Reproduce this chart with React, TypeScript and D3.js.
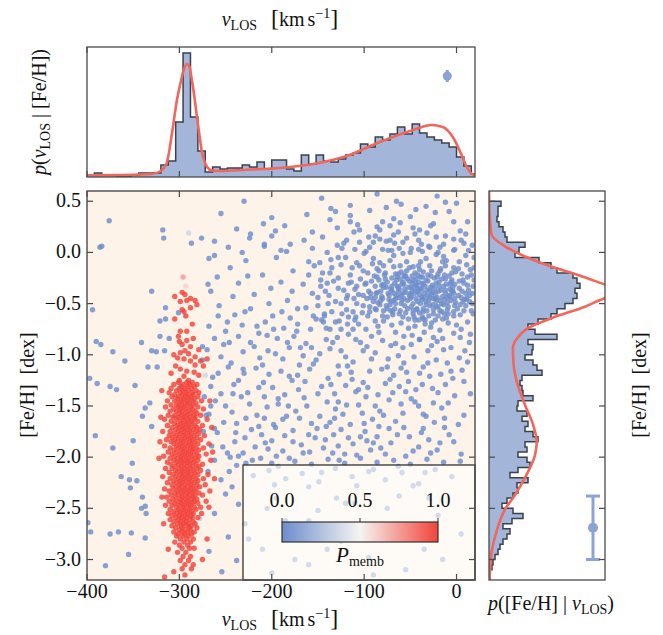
import React from 'react';
import * as d3 from 'd3';

// ---------- data ----------
const xTicks = [-400, -300, -200, -100, 0];
const yTicks = [0.5, 0.0, -0.5, -1.0, -1.5, -2.0, -2.5, -3.0];
const cbTicks = [0, 0.5, 1];

// top histogram of v_LOS (bins of 8 km/s starting at -400)
const vHistStart = -400;
const vHistWidth = 8;
const vHistCounts = [2, 4, 2, 2, 1, 1, 2, 4, 4, 4, 12, 16, 55, 124, 60, 26, 5,
  10, 8, 9, 9, 12, 10, 15, 8, 17,
  17, 8, 6, 22, 13, 22, 16, 15, 18, 22, 24, 33, 30, 40, 37, 43, 50, 43, 53, 44, 40, 37, 34, 30, 20, 11, 3];

// model curve p(v | [Fe/H])
const vModel: [number, number][] = [
  [-400, 1.7], [-360, 2], [-330, 3], [-320, 6], [-314, 13], [-307, 50], [-303, 75], [-299, 93],
  [-295, 108], [-292, 113], [-289, 110], [-287, 100], [-284, 82], [-281, 60], [-278, 40], [-276, 27],
  [-273, 16], [-270, 10], [-265, 6.5], [-255, 6], [-227, 7.3], [-191, 9], [-155, 13], [-119, 21],
  [-83, 35], [-47, 47], [-27, 52], [-15, 50], [-4, 40], [5.5, 22], [10, 12], [14.5, 5], [20, 1]];

// right histogram of [Fe/H] (bins of 0.05 dex from 0.50 downward)
const fehHistStart = 0.5;
const fehHistWidth = 0.05;
const fehHistCounts = [12, 9, 9, 8, 10, 14, 16, 18, 36, 30, 26, 50, 62, 68, 84, 88, 91, 86, 88, 84,
  76, 68, 62, 49, 39, 46, 68, 39, 44, 43, 36, 44, 48, 53, 33, 31,
  33, 34, 44, 29, 28, 38, 33, 39, 36, 44, 49, 36, 38, 29, 38, 41, 29, 21, 39, 28,
  29, 24, 18, 13, 24, 34, 23, 14, 21, 18, 14, 11, 9, 6, 4, 3, 1, 1];

// model curve p([Fe/H] | v)  [feh, density]
const fehModel: [number, number][] = [
  [0.6, 0], [0.3, 1], [0.17, 2.7], [0.06, 16], [-0.04, 36], [-0.14, 63], [-0.22, 89], [-0.29, 109],
  [-0.33, 120], [-0.38, 126], [-0.43, 120], [-0.47, 110], [-0.53, 96], [-0.64, 63], [-0.74, 39],
  [-0.84, 28], [-0.93, 24], [-1.06, 24.3], [-1.26, 27.7], [-1.49, 36], [-1.68, 44], [-1.85, 47.7],
  [-1.98, 46], [-2.2, 36], [-2.37, 26], [-2.51, 16], [-2.72, 7.7], [-2.92, 2.7], [-3.11, 1], [-3.2, 0.5]];

// typical uncertainties
const vErrMarker = { v: -10, h: 101 };
const fehErrMarker = { w: 104, feh: -2.69, err: 0.31 };

// member stars (Pmemb ~ 1): rows of [Fe/H, list of v_LOS]
const memberRows: [number, number[]][] = [
  [-0.39, [-297]], [-0.41, [-294]], [-0.43, [-305]], [-0.45, [-288]], [-0.47, [-292, -283]], [-0.48, [-299]], [-0.51, [-281]], [-0.54, [-288]],
  [-0.56, [-297]], [-0.58, [-295]], [-0.62, [-293]], [-0.65, [-305]], [-0.70, [-286]], [-0.77, [-299, -292]], [-0.82, [-301]], [-0.84, [-285]],
  [-0.86, [-292]], [-0.87, [-300]], [-0.90, [-297]], [-0.92, [-288]], [-0.95, [-279]], [-0.96, [-294]], [-0.98, [-299]], [-0.99, [-290]],
  [-1.00, [-306]], [-1.02, [-283]], [-1.03, [-302]],
  [-1.04, [-295, -270]], [-1.06, [-288, -277]], [-1.10, [-283]], [-1.11, [-304, -274]], [-1.14, [-299]], [-1.16, [-292]],
  [-1.17, [-284]], [-1.18, [-309]], [-1.20, [-279]], [-1.21, [-295]], [-1.25, [-300, -290]],
  [-1.27, [-301, -292, -286]], [-1.29, [-306, -296, -289, -281]], [-1.31, [-298, -291, -284]],
  [-1.33, [-309, -300, -294, -287]], [-1.35, [-319, -303, -296, -290, -282]], [-1.37, [-311, -299, -293, -286, -279]],
  [-1.39, [-305, -297, -291, -285]], [-1.41, [-308, -301, -294, -288, -280]], [-1.43, [-302, -296, -290, -284]],
  [-1.45, [-313, -305, -298, -292, -286, -276, -267]], [-1.47, [-300, -294, -289, -282]], [-1.49, [-309, -303, -297, -291, -285]],
  [-1.51, [-315, -301, -295, -288, -280]], [-1.53, [-306, -299, -293, -286, -274]], [-1.55, [-310, -303, -297, -290, -283]],
  [-1.57, [-300, -294, -288, -281]], [-1.59, [-312, -305, -298, -292, -285, -277]], [-1.61, [-320, -307, -301, -295, -289, -283]],
  [-1.63, [-316, -303, -296, -290, -284, -270]], [-1.65, [-309, -299, -293, -287, -280]], [-1.67, [-305, -298, -292, -286]],
  [-1.69, [-313, -302, -296, -290, -283, -275]], [-1.71, [-308, -300, -294, -288, -281, -265]], [-1.73, [-304, -297, -291, -285, -278]],
  [-1.75, [-318, -310, -301, -295, -289, -282]], [-1.77, [-306, -299, -293, -287, -279]], [-1.79, [-311, -303, -296, -290, -284, -273]],
  [-1.81, [-308, -301, -294, -288, -281]], [-1.83, [-314, -305, -298, -292, -286, -277]], [-1.85, [-321, -309, -302, -296, -289, -283]],
  [-1.87, [-306, -299, -293, -287, -280, -268]], [-1.89, [-316, -303, -297, -291, -285]], [-1.91, [-310, -301, -295, -288, -282, -274]],
  [-1.93, [-306, -298, -292, -286, -279]], [-1.95, [-312, -303, -296, -290, -284, -264]], [-1.97, [-308, -300, -294, -288, -281, -271]],
  [-1.99, [-317, -305, -298, -292, -286, -279]], [-2.01, [-322, -310, -302, -296, -290, -283]], [-2.03, [-306, -299, -293, -287, -280, -266]],
  [-2.05, [-313, -303, -297, -291, -285]], [-2.07, [-309, -301, -295, -289, -282, -275]], [-2.09, [-305, -298, -292, -286, -279]],
  [-2.11, [-315, -308, -300, -294, -288, -281]], [-2.13, [-304, -297, -291, -285, -277]], [-2.15, [-311, -302, -296, -290, -283]],
  [-2.17, [-307, -299, -293, -287, -280, -269]], [-2.19, [-318, -304, -297, -291, -285]], [-2.21, [-310, -301, -295, -289, -282, -274, -262]],
  [-2.23, [-306, -299, -293, -287, -280]], [-2.25, [-313, -303, -297, -290, -284]], [-2.27, [-308, -300, -294, -288, -281, -272]],
  [-2.29, [-304, -298, -292, -286, -278]], [-2.31, [-316, -307, -300, -294, -288, -282]], [-2.33, [-311, -302, -296, -290, -284, -267]],
  [-2.35, [-305, -298, -292, -286, -279]], [-2.37, [-309, -301, -295, -289, -283, -275]], [-2.39, [-319, -314, -304, -297, -291, -285]],
  [-2.41, [-307, -299, -293, -287, -281]], [-2.43, [-311, -302, -296, -290, -284, -271]], [-2.45, [-305, -298, -292, -286, -280]],
  [-2.47, [-315, -308, -300, -294, -288]], [-2.49, [-303, -296, -290, -284, -277, -268]], [-2.51, [-310, -301, -295, -289, -282]],
  [-2.53, [-306, -299, -293, -287]], [-2.55, [-312, -303, -297, -291, -285, -276]], [-2.57, [-308, -300, -294, -288]],
  [-2.59, [-304, -298, -292, -286, -280]], [-2.61, [-310, -301, -295, -289]], [-2.63, [-306, -299, -293, -285]],
  [-2.65, [-317, -302, -296, -290, -283]], [-2.67, [-308, -298, -292, -287]], [-2.69, [-304, -297, -289, -281]],
  [-2.71, [-300, -294, -288]], [-2.73, [-306, -297, -291, -284]], [-2.75, [-301, -294, -287]], [-2.77, [-303, -296, -290]],
  [-2.80, [-299, -292, -285, -270]], [-2.83, [-305, -295, -288]], [-2.86, [-300, -291]], [-2.89, [-297, -289, -284]],
  [-2.90, [-312]], [-2.93, [-302, -293]], [-2.97, [-296, -288]], [-3.00, [-275]], [-3.01, [-299, -290]], [-3.05, [-294, -285]],
  [-3.09, [-297, -287]], [-3.12, [-306]], [-3.15, [-294]], [-3.17, [-316]]];

// field stars (Pmemb ~ 0): "v_LOS  [Fe/H]x100" pairs
const fieldTop = `-86 57,-21 55,-146 53,-230 50,-12 49,-115 46,-60 47,-136 43,-76 44,-44 42,-131 40,-94 41,-23 39,-162 37,-115 36,
-255 38,-200 34,-68 33,-3 30,-137 32,-209 28,-107 27,-61 29,-25 28,-186 26,-86 25,-72 26,-47 24,-129 24,-83 22,-238 23,-196 21,-40 22,
4 21,-156 20,-32 19,-111 20,10 18,-68 17,-223 18,-200 16,-145 15,-88 16,-224 14,-83 13,-54 14,-22 15,-276 14,-3 13,-119 12,-76 11,
-165 12,-41 12,-105 10,-262 11,-122 9,-58 10,-287 9,-208 8,-67 9,-14 8,8 9,-129 7,-180 8,-30 6,-208 6,17 7,-94 5,-247 5,-124 4,-49 4,
-2 3,-156 4,-190 2,-110 3,-98 1,-70 2,-37 1,13 2,-184 1,-232 0,-140 0,-20 0,
-95 15,-63 20,-38 8,-12 16,5 12,-80 30,-50 35,-28 26,-8 40,12 30,-105 22,-72 12,-45 18,-18 5,-90 10,-33 45,0 48,-115 30,-65 50`;

const fieldLeft = `-376 31,-318 22,-317 14,-384 6,-386 5,-330 -38,-315 -54,-394 -56,-301 -59,-315 -65,-321 -67,-321 -82,-311 -84,
-390 -87,-341 -88,-385 -90,-330 -96,-325 -97,-316 -96,-372 -97,-359 -106,-334 -112,-324 -112,-397 -123,-389 -128,-348 -130,
-375 -131,-368 -134,-332 -147,-337 -152,-340 -160,-330 -170,-391 -179,-350 -184,-372 -191,-351 -206,-363 -219,-354 -222,-346 -223,
-353 -230,-340 -239,-337 -248,-341 -250,-336 -255,-399 -264,-396 -273,-366 -273,-352 -274,-375 -275,-337 -279,-355 -295,-380 -306,
-269 -31,-268 -6,-275 -92,-275 -105,-273 -141,-274 -175,-271 -159`;

const fieldCore = `-44 -31,-12 -40,-78 -22,3 -35,-59 -47,-27 -18,-95 -38,11 -12,-36 -55,-67 -30,-5 -27,-51 -15,-83 -51,-20 -62,-40 -41,
14 -48,-72 -8,-31 -28,-56 -36,-9 -53,-104 -26,-47 -60,6 -21,-63 -44,-24 -35,-88 -33,-15 -9,-39 -24,-2 -45,-74 -40,
-53 -26,-18 -47,-86 -16,-32 -37,8 -30,-61 -57,-41 -13,-97 -45,-7 -36,-70 -25,-26 -51,17 -40,-49 -34,-80 -62,-13 -22,
-58 -40,-36 -65,1 -55,-92 -28,-45 -20,-22 -30,-66 -50,-3 -15,-110 -36,-29 -44,12 -24,-76 -34,-54 -9,-16 -58,-42 -48,
-38 -36,-81 -43,-4 -38,-60 -19,-25 -56,9 -46,-70 -37,-47 -27,-101 -18,-14 -33,-34 -70,-56 -52,18 -33,-89 -23,-29 -13,
-64 -33,-10 -49,-43 -55,-118 -42,-21 -24,4 -61,-75 -55,-51 -42,-37 -30,-94 -53,15 -17,-68 -14,-30 -62,-7 -31,-84 -27,
-48 -38,-19 -29,-73 -46,2 -42,-55 -23,-33 -48,-99 -31,-11 -64,-62 -36,-40 -17,10 -52,-86 -39,-27 -41,-52 -65,-5 -20,
-77 -20,-44 -26,-17 -37,-108 -50,-58 -29,19 -27,-36 -58,-69 -61,-23 -66,-91 -11,-1 -49,-47 -50,-82 -47,-12 -13,-65 -42,
-28 -34,-57 -31,-8 -42,-79 -31,-42 -36,13 -37,-66 -21,-35 -44,-93 -40,-16 -26,-50 -45,-3 -58,-72 -51,-31 -22,7 -27,
-87 -56,-46 -63,-20 -53,-61 -26,-114 -29,-39 -9,-2 -31,-75 -29,-53 -55,-26 -39,16 -57,-96 -20,-10 -44,-43 -32,-68 -47,
-125 -12,-131 -48,-117 -63,-140 -30,-106 -70,-120 -5,-98 -75,-85 -72,-66 -78,-52 -74,-35 -78,-18 -76,0 -71,12 -68,18 -60,
19 -15,10 -3,-3 2,-22 -2,-41 3,-58 -1,-74 2,-90 -6,-108 -10,-128 -35,-135 -58,-113 -15,-96 -62,-79 -67,-60 -69,
-45 -72,-28 -73,-9 -69,5 -75,-14 -4,-33 -6,-50 0,-68 -3,-83 -10,-100 -1,-119 -56,-138 -42,-102 -59,-88 -67,-70 -71,
-3 -79,15 -80,-25 -83,-40 -85,-57 -82,-112 -75,-127 -67,-145 -20,-136 -7,-80 3,-62 4,-29 5,-11 -8,19 -5,3 -9,
-49 -43,-23 -45,-63 -38,-34 -33,-14 -51,-56 -24,-41 -66,-88 -44,6 -38,-71 -57,-18 -18,-106 -41,-37 -46,-9 -60,-79 -13,
-46 -35,-33 -27,-60 -42,-20 -38,-70 -33,-8 -23,-54 -18,-39 -50,-25 -60,-82 -38,-2 -52,-15 -43,-62 -60,-48 -23,12 -32,
-30 -47,-77 -26,-41 -29,-11 -31,-57 -45,-90 -48,5 -44,-36 -19,-22 -53,-67 -55,-5 -38,-45 -66,-84 -18,-17 -16,-52 -34,
8 -57,-29 -37,-73 -42,-61 -13,-13 -60,-38 -44,-98 -30,3 -28,-49 -53,-24 -25,-79 -57,-6 -47,-42 -22,17 -50,-65 -27,
-32 -57,-88 -55,-19 -33,-55 -39,-1 -19,-44 -45,-71 -48,-27 -69,-12 -26,-58 -63,-35 -40,10 -40,-93 -44,-21 -44,-63 -34,
-47 -14,-3 -62,-81 -32,-37 -24,-26 -32,-53 -47,16 -22,-68 -40,-10 -56,-40 -59,-86 -24,-31 -42,-57 -22,-16 -50,7 -48,
-75 -63,-48 -30,-23 -40,-66 -45,-4 -34,-39 -35,-94 -58,-12 -37,-55 -59,2 -16,-29 -52,-80 -45,-45 -40,-18 -57,-63 -21,
-34 -66,-7 -43,-51 -28,-71 -36,14 -42,-36 -31,-87 -40,-20 -21,-60 -50,-43 -56,-6 -29,-76 -52,-25 -45,-50 -40,11 -45,
-33 -51,-101 -42,-15 -65,-59 -31,-42 -38,-69 -58,-3 -40,-28 -23,-85 -49,-47 -57,-13 -46,-64 -24,4 -51,-37 -63,-79 -34,-22 -48,
-128 -25,-142 -38,-119 -45,-135 -15,-150 -52,-124 -60,-108 -33,-115 -22,-147 -33,-131 -68,-112 -58,-139 -50,-105 -13,
-122 -37,-156 -40,-118 -70,-128 -5,-143 -62,-101 -52,-111 -45,-133 -28,-160 -22,-148 -10,-125 -50,-137 -75,-152 -65,-109 -63,-117 -30`;

const fieldHalo = `-262 -3,-245 -15,-228 -8,-210 -22,-195 -5,-177 -18,-160 -9,-147 -27,-236 -30,-219 -41,-201 -35,-183 -47,-166 -31,
-150 -44,-137 -20,-257 -52,-240 -61,-223 -55,-207 -68,-189 -58,-172 -70,-155 -62,-141 -74,-268 -72,-250 -77,-232 -71,-214 -79,
-198 -75,-180 -64,-163 -54,-146 -66,-242 -43,-178 -38,-154 -13,-266 -38,-226 -23,-190 -29,-203 -50,-173 -77,-259 -24,
-262 -84,-231 -97,-205 -81,-188 -104,-163 -89,-148 -99,-129 -83,-112 -107,-97 -92,-80 -86,-63 -101,-49 -90,-31 -96,-15 -84,
3 -103,14 -88,-244 -108,-219 -92,-176 -82,-155 -109,-137 -94,-120 -102,-88 -98,-71 -91,-57 -108,-40 -85,-22 -105,-6 -93,
-270 -95,-196 -99,-169 -93,-141 -85,-104 -88,-74 -104,-27 -91,9 -96,-252 -90,-213 -103,-183 -88,-125 -96,-92 -82,-46 -102,-10 -108,
-258 -118,-236 -125,-217 -113,-199 -132,-181 -121,-159 -114,-146 -131,-127 -119,-109 -136,-94 -116,-77 -128,-60 -113,-44 -134,
-29 -121,-12 -129,6 -115,15 -138,-266 -131,-247 -112,-226 -137,-209 -127,-190 -116,-171 -134,-139 -123,-118 -111,-101 -127,
-85 -139,-68 -120,-52 -126,-36 -112,-20 -137,-4 -123,-241 -129,-203 -119,-164 -126,-132 -138,-113 -124,-81 -114,-55 -136,
-255 -138,-186 -139,
-261 -145,-243 -156,-224 -148,-208 -162,-193 -143,-174 -155,-157 -167,-140 -146,-123 -158,-106 -149,-91 -163,-73 -144,
-58 -157,-41 -150,-24 -166,-9 -147,8 -159,-252 -166,-233 -141,-216 -159,-198 -168,-182 -150,-165 -142,-148 -160,-131 -153,
-115 -168,-98 -141,-83 -155,-66 -165,-49 -143,-33 -160,-16 -152,-268 -158,-238 -167,-205 -151,-170 -162,-137 -166,-102 -157,
-60 -148,2 -168,
-259 -176,-240 -185,-222 -173,-204 -192,-186 -179,-168 -188,-151 -172,-134 -196,-117 -181,-99 -175,-82 -191,-64 -178,-47 -194,
-30 -183,-13 -171,-248 -196,-229 -181,-211 -178,-195 -199,-177 -174,-159 -195,-142 -183,-125 -173,-108 -198,-90 -186,-73 -172,
-55 -199,-38 -176,-21 -193,-3 -185,-265 -189,-236 -199,-200 -184,-160 -178,-128 -189,-86 -180,5 -197,
-262 -203,-246 -214,-228 -206,-212 -201,-193 -209,-175 -204,-157 -207,-139 -202,-121 -206,-104 -201,-86 -205,-68 -203,-50 -207,
-32 -202,-14 -205,4 -204,-255 -222,-238 -208,-220 -218,-203 -213,-185 -221,-167 -216,-149 -224,-131 -211,-113 -219,-95 -214,
-77 -222,-59 -215,-41 -226,-23 -212,-5 -219,-243 -229,-197 -227,-160 -229,-108 -228,-47 -228,-269 -214,
-250 -236,-236 -246,-262 -255,-229 -265,-247 -278,-268 -292,-238 -301,-254 -312,-195 -240,-150 -252,-110 -245,-62 -238,-20 -257,
-175 -270,-125 -282,-80 -266,-35 -290,5 -275,-210 -290,-160 -305,-95 -298,-55 -310,-200 -313,-130 -240,-15 -300,
-248 -68,-223 -88,-199 -62,-181 -93,-158 -75,-134 -88,-117 -80,-101 -96,-84 -78,-66 -89,-48 -81,-31 -108,-14 -95,4 -83,
-236 -82,-210 -110,-187 -74,-166 -101,-144 -68,-128 -111,-109 -85,-92 -104,-75 -112,-58 -93,-40 -118,-21 -87,-6 -116,12 -107,
-255 -102,-230 -118,-204 -96,-178 -125,-152 -105,-136 -129,-114 -117,-96 -132,-72 -124,-54 -117,-37 -129,-17 -119,8 -126,
-264 -122,-242 -138,-214 -132,-193 -148,-172 -120,-150 -138,-128 -146,-106 -134,-88 -150,-69 -137,-45 -146,-26 -133,-2 -140,
-250 -150,-228 -162,-208 -141,-184 -160,-162 -150,-141 -170,-119 -149,-100 -167,-79 -159,-57 -171,-36 -158,-13 -162,
-262 -172,-239 -176,-218 -190,-196 -171,-177 -185,-153 -181,-133 -178,-112 -187,-93 -193,-71 -186,-51 -180,-28 -196,-8 -178,
-253 -190,-231 -196,-207 -186,-188 -194,-166 -196,-144 -191,-121 -197,-97 -184,-77 -197,-41 -190,-18 -186,
-245 -200,-221 -203,-200 -206,-181 -201,-146 -215,-127 -203,-90 -212,-63 -209,-34 -215,
-120 -245,-75 -250,-185 -262,-45 -270,-140 -290,-225 -280,-100 -272,-160 -262,-30 -240,-205 -250,-175 -300,-90 -315,
-258 -62,-246 -88,-229 -58,-216 -72,-194 -84,-172 -55,-157 -93,-143 -60,-125 -75,-110 -66,-231 -114,-170 -110,-120 -130,
-62 -131,-25 -147,-188 -163,-132 -162,-84 -170,-266 -150,-214 -170,-104 -180,-36 -172`;

// stars with intermediate membership: [v, feh, Pmemb]
const mixedStars: [number, number, number][] = [
  [-290, 0.19, 0.35], [-281, -0.14, 0.5], [-296, -0.24, 0.75], [-293, -0.33, 0.6], [-285, -1.45, 0.4],
  [-282, -1.83, 0.55], [-305, -2.1, 0.45], [-278, -2.6, 0.3], [-300, -1.05, 0.6], [-272, -1.2, 0.35]];

// ---------- layout ----------
const W = 663, H = 635;
const FONT = "'Liberation Serif', 'DejaVu Serif', serif";
const x = d3.scaleLinear().domain([-400, 20]).range([87, 475]);
const y = d3.scaleLinear().domain([-3.2, 0.6]).range([580, 191]);
const yTop = d3.scaleLinear().domain([0, 130]).range([177, 47]);
const xR = d3.scaleLinear().domain([0, 116]).range([489, 605]);
const color = d3.scaleLinear<string>().domain([0, 0.5, 1]).range(['#6c8dcc', '#f6f4f3', '#f2443a']);

const BG = '#fdf3e8';
const HIST_FILL = '#a4b5da';
const HIST_STROKE = '#3b414b';
const MODEL = '#f2665b';
const ERR = '#8ca4d5';
const SPINE = '#4a4a4a';

function parsePairs(s: string) {
  return s.split(',').map((t) => t.trim()).filter((t) => t.length).map((t) => {
    const [v, f] = t.split(/\s+/).map(Number);
    return { v, f: f / 100, p: 0 };
  });
}

function App() {
  const stars: { v: number; f: number; p: number }[] = [
    ...parsePairs(fieldTop), ...parsePairs(fieldLeft), ...parsePairs(fieldHalo), ...parsePairs(fieldCore)];
  mixedStars.slice().sort((a, b) => a[2] - b[2]).forEach(([v, f, p]) => stars.push({ v, f, p }));
  memberRows.forEach(([f, vs]) => vs.forEach((v) => stars.push({ v, f, p: 1 })));

  let topPath = `M${x(vHistStart)},${yTop(0)}`;
  vHistCounts.forEach((c, i) => {
    const x0 = x(vHistStart + i * vHistWidth);
    const x1 = x(vHistStart + (i + 1) * vHistWidth);
    topPath += `L${x0},${yTop(c)}L${x1},${yTop(c)}`;
  });
  topPath += `L${x(vHistStart + vHistCounts.length * vHistWidth)},${yTop(0)}`;

  let rightPath = `M${xR(0)},${y(fehHistStart)}`;
  fehHistCounts.forEach((c, i) => {
    const f0 = fehHistStart - i * fehHistWidth;
    const f1 = f0 - fehHistWidth;
    rightPath += `L${xR(c)},${y(f0)}L${xR(c)},${y(f1)}`;
  });
  rightPath += `L${xR(0)},${y(fehHistStart - fehHistCounts.length * fehHistWidth)}`;

  const topLine = d3.line<[number, number]>().x((d) => x(d[0])).y((d) => yTop(d[1])).curve(d3.curveMonotoneX)(vModel) || '';
  const rightLine = d3.line<[number, number]>().x((d) => xR(d[1])).y((d) => y(d[0])).curve(d3.curveMonotoneY)(fehModel) || '';

  const tk = 6;
  const fs = 20;
  const fmtY = (t: number) => (t < 0 ? '\u2212' : '') + Math.abs(t).toFixed(1);
  const fmtX = (t: number) => (t < 0 ? '\u2212' : '') + Math.abs(t).toString();

  const cb = { x0: 282, x1: 438, y0: 522, y1: 542 };
  const cbScale = d3.scaleLinear().domain([0, 1]).range([cb.x0, cb.x1]);

  const vlos = (px: number, py: number) => (
    <text x={px} y={py} textAnchor="middle" fontSize={fs} fontFamily={FONT} fill="#111">
      <tspan fontStyle="italic">v</tspan>
      <tspan fontSize={14} dy={4}>LOS</tspan>
      <tspan dx={14} dy={-4} fontSize={24}>[</tspan>
      <tspan>km</tspan>
      <tspan dx={3}>s</tspan>
      <tspan fontSize={14} dy={-8}>{'\u22121'}</tspan>
      <tspan fontSize={24} dy={8}>]</tspan>
    </text>
  );

  return (
    <svg width={W} height={H} style={{ position: 'absolute', left: 0, top: 0, background: '#fff' }}>
      <defs>
        <clipPath id="clipMain"><rect x={87} y={191} width={388} height={389} /></clipPath>
        <clipPath id="clipTop"><rect x={87} y={47} width={388} height={130} /></clipPath>
        <clipPath id="clipRight"><rect x={489} y={191} width={116} height={389} /></clipPath>
        <linearGradient id="cbGrad" x1="0" x2="1" y1="0" y2="0">
          {d3.range(0, 1.0001, 0.1).map((t) => (
            <stop key={t} offset={t} stopColor={color(t)} />
          ))}
        </linearGradient>
      </defs>

      {/* ---------- main panel ---------- */}
      <rect x={87} y={191} width={388} height={389} fill={BG} />
      <g clipPath="url(#clipMain)">
        {stars.map((s, i) => (
          <circle key={i} cx={x(s.v)} cy={y(s.f)} r={2.7} fill={color(s.p)} fillOpacity={0.82} />
        ))}
      </g>
      <rect x={243} y={465} width={232} height={115} fill="#ffffff" fillOpacity={0.62} stroke="#333" strokeWidth={1.3} />
      <rect x={cb.x0} y={cb.y0} width={cb.x1 - cb.x0} height={cb.y1 - cb.y0} fill="url(#cbGrad)" stroke="#333" strokeWidth={1.2} />
      {cbTicks.map((t) => (
        <g key={t}>
          <line x1={cbScale(t)} x2={cbScale(t)} y1={cb.y0} y2={cb.y0 - 4} stroke="#333" strokeWidth={1} />
          <text x={cbScale(t)} y={507} textAnchor="middle" fontSize={fs} fontFamily={FONT} fill="#111">{t.toFixed(1)}</text>
        </g>
      ))}
      <text x={360} y={562} textAnchor="middle" fontSize={fs + 1} fontFamily={FONT} fill="#111">
        <tspan fontStyle="italic">P</tspan>
        <tspan fontSize={14} dy={4}>memb</tspan>
      </text>
      {xTicks.map((t) => (
        <g key={'xt' + t}>
          <line x1={x(t)} x2={x(t)} y1={580} y2={580 - tk} stroke={SPINE} strokeWidth={1.2} />
          <line x1={x(t)} x2={x(t)} y1={191} y2={191 + tk} stroke={SPINE} strokeWidth={1.2} />
          <text x={x(t)} y={598} textAnchor="middle" fontSize={fs} fontFamily={FONT} fill="#111">{fmtX(t)}</text>
        </g>
      ))}
      {yTicks.map((t) => (
        <g key={'yt' + t}>
          <line x1={87} x2={87 + tk} y1={y(t)} y2={y(t)} stroke={SPINE} strokeWidth={1.2} />
          <line x1={475} x2={475 - tk} y1={y(t)} y2={y(t)} stroke={SPINE} strokeWidth={1.2} />
          <text x={81} y={y(t) + 6} textAnchor="end" fontSize={fs} fontFamily={FONT} fill="#111">{fmtY(t)}</text>
        </g>
      ))}
      <rect x={87} y={191} width={388} height={389} fill="none" stroke={SPINE} strokeWidth={1.4} />
      {vlos(280, 626)}
      <text transform="translate(34,385) rotate(-90)" textAnchor="middle" fontSize={fs} fontFamily={FONT} fill="#111">
        [Fe/H]<tspan dx={10}>[dex]</tspan>
      </text>

      {/* ---------- top panel ---------- */}
      <g clipPath="url(#clipTop)">
        <path d={topPath} fill={HIST_FILL} stroke={HIST_STROKE} strokeWidth={1.5} />
        <path d={topLine} fill="none" stroke={MODEL} strokeWidth={2.6} />
      </g>
      <line x1={x(vErrMarker.v)} x2={x(vErrMarker.v)} y1={yTop(vErrMarker.h) - 6} y2={yTop(vErrMarker.h) + 6} stroke={ERR} strokeWidth={3} />
      <circle cx={x(vErrMarker.v)} cy={yTop(vErrMarker.h)} r={4.6} fill={ERR} />
      {xTicks.map((t) => (
        <g key={'tt' + t}>
          <line x1={x(t)} x2={x(t)} y1={47} y2={47 + tk} stroke={SPINE} strokeWidth={1.2} />
          <line x1={x(t)} x2={x(t)} y1={177} y2={177 - tk} stroke={SPINE} strokeWidth={1.2} />
        </g>
      ))}
      <rect x={87} y={47} width={388} height={130} fill="none" stroke={SPINE} strokeWidth={1.3} />
      {vlos(280, 26)}
      <text transform="translate(46,112) rotate(-90)" textAnchor="middle" fontSize={fs} fontFamily={FONT} fill="#111">
        <tspan fontStyle="italic">p</tspan>(<tspan fontStyle="italic">v</tspan>
        <tspan fontSize={14} dy={4}>LOS</tspan>
        <tspan dy={-4}> | [Fe/H])</tspan>
      </text>

      {/* ---------- right panel ---------- */}
      <g clipPath="url(#clipRight)">
        <path d={rightPath} fill={HIST_FILL} stroke={HIST_STROKE} strokeWidth={1.5} />
        <path d={rightLine} fill="none" stroke={MODEL} strokeWidth={2.6} />
      </g>
      <g stroke={ERR} strokeWidth={3}>
        <line x1={xR(fehErrMarker.w)} x2={xR(fehErrMarker.w)} y1={y(fehErrMarker.feh + fehErrMarker.err)} y2={y(fehErrMarker.feh - fehErrMarker.err)} />
        <line x1={xR(fehErrMarker.w) - 7} x2={xR(fehErrMarker.w) + 7} y1={y(fehErrMarker.feh + fehErrMarker.err)} y2={y(fehErrMarker.feh + fehErrMarker.err)} />
        <line x1={xR(fehErrMarker.w) - 7} x2={xR(fehErrMarker.w) + 7} y1={y(fehErrMarker.feh - fehErrMarker.err)} y2={y(fehErrMarker.feh - fehErrMarker.err)} />
      </g>
      <circle cx={xR(fehErrMarker.w)} cy={y(fehErrMarker.feh)} r={5} fill={ERR} />
      {yTicks.map((t) => (
        <g key={'rt' + t}>
          <line x1={489} x2={489 + tk} y1={y(t)} y2={y(t)} stroke={SPINE} strokeWidth={1.2} />
          <line x1={605} x2={605 - tk} y1={y(t)} y2={y(t)} stroke={SPINE} strokeWidth={1.2} />
        </g>
      ))}
      <rect x={489} y={191} width={116} height={389} fill="none" stroke={SPINE} strokeWidth={1.3} />
      <text x={551} y={610} textAnchor="middle" fontSize={fs} fontFamily={FONT} fill="#111">
        <tspan fontStyle="italic">p</tspan>([Fe/H] | <tspan fontStyle="italic">v</tspan>
        <tspan fontSize={14} dy={4}>LOS</tspan>
        <tspan dy={-4}>)</tspan>
      </text>
      <text transform="translate(646,385) rotate(-90)" textAnchor="middle" fontSize={fs} fontFamily={FONT} fill="#111">
        [Fe/H]<tspan dx={10}>[dex]</tspan>
      </text>
    </svg>
  );
}

export default App;
